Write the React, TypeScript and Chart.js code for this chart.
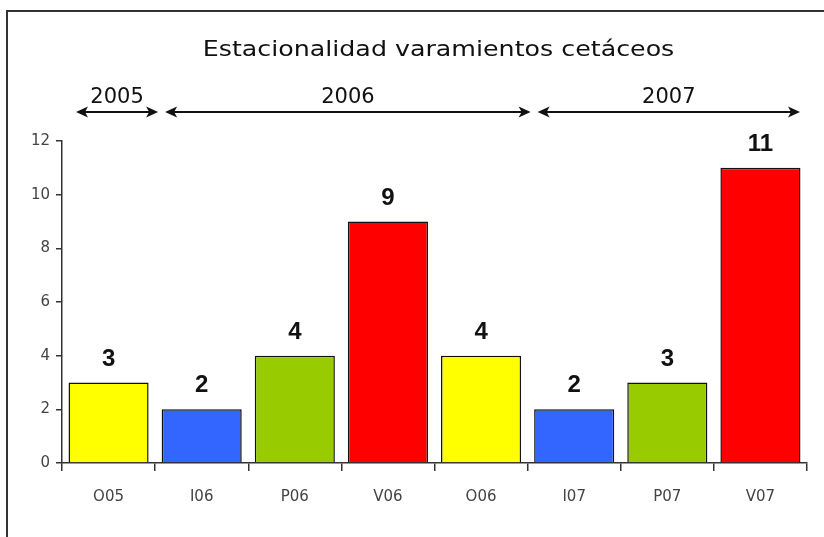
import React, { useEffect, useRef } from "react";
import { Chart, registerables } from "chart.js";

Chart.register(...registerables);

const categories = ["O05", "I06", "P06", "V06", "O06", "I07", "P07", "V07"];
const values = [3, 2, 4, 9, 4, 2, 3, 11];
const barColors = ["#FFFF00", "#3366FF", "#99CC00", "#FF0000", "#FFFF00", "#3366FF", "#99CC00", "#FF0000"];
const yearLabels = ["2005", "2006", "2007"];
const yearStart = [0, 1, 5];
const yearEnd = [0, 4, 7];
const titleText = "Estacionalidad varamientos cetáceos";

const FONT = "'DejaVu Sans', 'Liberation Sans', sans-serif";

function drawArrow(ctx: CanvasRenderingContext2D, x1: number, x2: number, y: number) {
  ctx.save();
  ctx.strokeStyle = "#111";
  ctx.fillStyle = "#111";
  ctx.lineWidth = 2.2;
  ctx.beginPath();
  ctx.moveTo(x1 + 6, y);
  ctx.lineTo(x2 - 6, y);
  ctx.stroke();
  ctx.beginPath();
  ctx.moveTo(x1, y);
  ctx.lineTo(x1 + 12, y - 5.5);
  ctx.lineTo(x1 + 9, y);
  ctx.lineTo(x1 + 12, y + 5.5);
  ctx.closePath();
  ctx.fill();
  ctx.beginPath();
  ctx.moveTo(x2, y);
  ctx.lineTo(x2 - 12, y - 5.5);
  ctx.lineTo(x2 - 9, y);
  ctx.lineTo(x2 - 12, y + 5.5);
  ctx.closePath();
  ctx.fill();
  ctx.restore();
}

function stretchedText(ctx: CanvasRenderingContext2D, text: string, cx: number, y: number, sx: number) {
  ctx.save();
  ctx.translate(cx, y);
  ctx.scale(sx, 1);
  ctx.fillText(text, 0, 0);
  ctx.restore();
}

const decorPlugin = {
  id: "decor",
  beforeDraw(chart: any) {
    const ctx = chart.ctx as CanvasRenderingContext2D;
    ctx.save();
    ctx.fillStyle = "#fff";
    ctx.fillRect(0, 0, chart.width, chart.height);
    ctx.strokeStyle = "#333";
    ctx.lineWidth = 2;
    ctx.beginPath();
    ctx.moveTo(7, chart.height + 5);
    ctx.lineTo(7, 11);
    ctx.lineTo(chart.width + 5, 11);
    ctx.stroke();
    ctx.restore();
  },
  afterDatasetsDraw(chart: any) {
    const ctx = chart.ctx as CanvasRenderingContext2D;
    const x = chart.scales.x;
    const area = chart.chartArea;
    ctx.save();
    ctx.fillStyle = "#111";
    ctx.textAlign = "center";
    ctx.textBaseline = "alphabetic";
    ctx.font = `22px ${FONT}`;
    stretchedText(ctx, titleText, (area.left + area.right) / 2 + 4, 56, 1.15);
    const half = (x.getPixelForValue(1) - x.getPixelForValue(0)) / 2;
    for (let i = 0; i < yearLabels.length; i++) {
      const left = x.getPixelForValue(yearStart[i]) - half;
      const right = x.getPixelForValue(yearEnd[i]) + half;
      const x1 = i === 0 ? left + 14 : left + 10;
      const x2 = i === yearLabels.length - 1 ? right - 7 : right + 3;
      drawArrow(ctx, x1, x2, 112);
      ctx.font = `21px ${FONT}`;
      ctx.fillStyle = "#111";
      ctx.fillText(yearLabels[i], (x1 + x2) / 2, 103);
    }
    const meta = chart.getDatasetMeta(0);
    ctx.font = `bold 24px 'Liberation Sans', Arial, sans-serif`;
    ctx.fillStyle = "#111";
    meta.data.forEach((bar: any, i: number) => {
      ctx.fillText(String(values[i]), bar.x, bar.y - 17);
    });
    ctx.restore();
  },
};

export default function App() {
  const ref = useRef<HTMLCanvasElement>(null);
  useEffect(() => {
    document.body.style.margin = "0";
    const chart = new Chart(ref.current!, {
      type: "bar",
      data: {
        labels: categories,
        datasets: [
          {
            data: values,
            backgroundColor: barColors,
            borderColor: "#111",
            borderWidth: 1.5,
            borderSkipped: "bottom",
            categoryPercentage: 1,
            barPercentage: 0.86,
          },
        ],
      },
      options: {
        animation: false,
        responsive: false,
        maintainAspectRatio: false,
        layout: { padding: { top: 141, right: 17, left: 0, bottom: 0 } },
        plugins: {
          legend: { display: false },
          tooltip: { enabled: false },
          title: { display: false },
        },
        scales: {
          x: {
            grid: {
              offset: true,
              drawOnChartArea: false,
              tickLength: 8,
              color: "#333",
              lineWidth: 1.5,
            },
            border: { color: "#333", width: 1.5 },
            ticks: {
              color: "#444",
              font: { family: FONT, size: 15 },
              padding: 17,
              maxRotation: 0,
            },
            afterFit(scale: any) {
              scale.height = 74;
            },
          },
          y: {
            min: 0,
            max: 12,
            ticks: {
              stepSize: 2,
              color: "#444",
              font: { family: FONT, size: 15 },
              padding: 6,
            },
            grid: {
              drawOnChartArea: false,
              tickLength: 6,
              color: "#333",
              lineWidth: 1.5,
            },
            border: { color: "#333", width: 1.5 },
            afterFit(scale: any) {
              scale.width = 62;
            },
          },
        },
      },
      plugins: [decorPlugin],
    });
    return () => chart.destroy();
  }, []);
  return (
    <div style={{ width: 824, height: 537 }}>
      <canvas ref={ref} width={824} height={537} style={{ display: "block" }} />
    </div>
  );
}
